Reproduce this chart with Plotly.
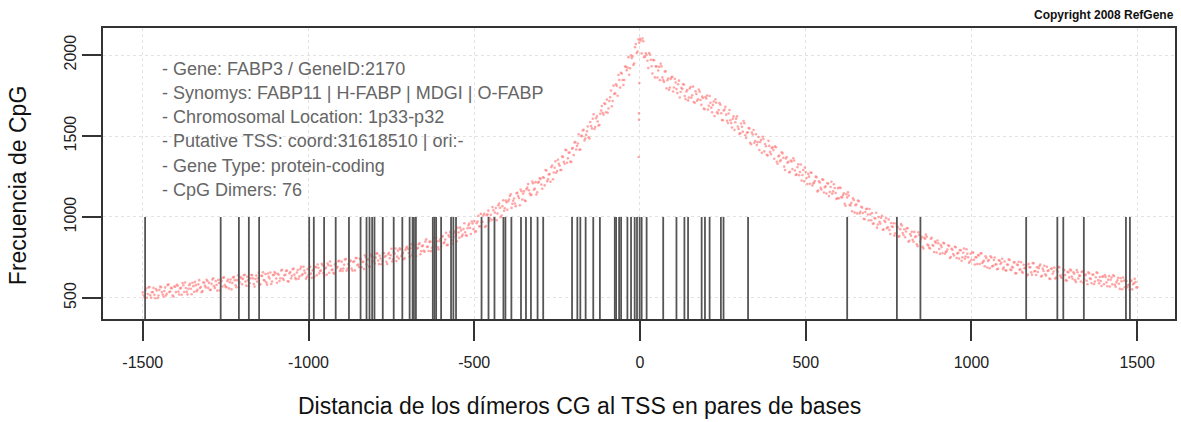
import plotly.graph_objects as go

# ---- data ----
# CpG dimer positions (bp relative to TSS)
dimer_pos = [-1493, -1265, -1210, -1180, -1149, -998, -984, -953, -918, -878, -843,
             -825, -816, -808, -801, -776, -743, -717, -695, -686, -682, -676,
             -625, -620, -615, -600, -570, -563, -555,
             -478, -457, -439, -412, -406, -388, -359, -344, -329, -309, -292,
             -205, -189, -180, -164, -141, -121,
             -76, -72, -63, -57, -38, -27, -16, -9, -1, 5, 20,
             70, 110, 134, 145, 186, 196, 210, 244, 252, 326,
             625, 775, 846, 1165, 1259, 1277, 1339, 1466, 1478]
dimer_height = 1000

# CpG frequency profile, estimates every 5 bp from -1500 to 1500
freq_x = list(range(-1500, 1501, 5))
freq_y = [
    535, 504, 558, 524, 568, 501, 537, 519, 555, 500, 550, 566, 521, 543, 515, 579, 537, 562, 515, 571,
    536, 576, 521, 562, 592, 537, 561, 522, 579, 557, 594, 538, 579, 551, 610, 568, 542, 595, 565, 605,
    593, 550, 614, 573, 605, 545, 592, 615, 571, 627, 567, 604, 559, 614, 593, 629, 578, 610, 565, 629,
    585, 640, 601, 631, 572, 621, 641, 586, 617, 601, 656, 585, 636, 611, 648, 582, 631, 657, 602, 641,
    652, 594, 643, 622, 674, 611, 643, 669, 602, 660, 637, 681, 625, 657, 619, 679, 640, 693, 654, 630,
    643, 693, 624, 674, 693, 640, 686, 666, 711, 653, 681, 644, 702, 725, 673, 655, 706, 686, 726, 667,
    724, 682, 737, 668, 709, 726, 681, 722, 670, 747, 707, 742, 689, 723, 764, 706, 737, 693, 758, 728,
    713, 774, 731, 761, 708, 776, 754, 723, 770, 745, 804, 738, 773, 728, 792, 806, 759, 779, 746, 809,
    803, 754, 831, 782, 824, 759, 809, 837, 789, 823, 786, 862, 816, 846, 789, 845, 816, 872, 813, 851,
    819, 883, 844, 902, 828, 878, 899, 835, 902, 887, 933, 872, 917, 891, 961, 887, 930, 959, 895, 960,
    975, 911, 972, 943, 1019, 970, 1020, 944, 1016, 974, 1013, 1061, 988, 1055, 1021, 1083, 999, 1067, 1038, 1102,
    1045, 1108, 1140, 1081, 1114, 1067, 1149, 1117, 1170, 1108, 1158, 1099, 1181, 1165, 1135, 1219, 1168, 1215, 1153, 1217,
    1235, 1174, 1242, 1290, 1220, 1263, 1218, 1318, 1275, 1344, 1284, 1328, 1290, 1373, 1341, 1415, 1335, 1397, 1342, 1422,
    1382, 1463, 1438, 1511, 1417, 1499, 1539, 1484, 1529, 1492, 1586, 1547, 1634, 1556, 1622, 1565, 1637, 1685, 1632, 1698,
    1725, 1670, 1739, 1684, 1811, 1763, 1810, 1877, 1799, 1886, 1815, 1929, 1906, 1987, 1918, 1981, 1939, 2048, 2012, 2096,
    2100, 2010, 2085, 1990, 2000, 1920, 2003, 1931, 1969, 1862, 1930, 1905, 1845, 1930, 1845, 1898, 1795, 1855, 1800, 1862,
    1775, 1853, 1790, 1820, 1738, 1797, 1820, 1747, 1775, 1720, 1793, 1737, 1805, 1705, 1760, 1727, 1774, 1692, 1735, 1665,
    1732, 1663, 1747, 1675, 1692, 1623, 1706, 1639, 1703, 1641, 1597, 1664, 1632, 1580, 1661, 1580, 1606, 1537, 1606, 1559,
    1513, 1577, 1527, 1579, 1488, 1523, 1547, 1449, 1509, 1458, 1511, 1462, 1414, 1476, 1495, 1405, 1437, 1379, 1439, 1388,
    1430, 1360, 1431, 1329, 1379, 1352, 1393, 1311, 1361, 1335, 1275, 1348, 1296, 1349, 1259, 1308, 1258, 1324, 1259, 1220,
    1278, 1203, 1249, 1275, 1194, 1212, 1249, 1158, 1220, 1180, 1232, 1151, 1190, 1208, 1129, 1185, 1144, 1202, 1148, 1116,
    1115, 1179, 1121, 1147, 1069, 1121, 1133, 1071, 1035, 1105, 1072, 1022, 1097, 1032, 1058, 989, 1031, 1051, 980, 1016,
    1025, 960, 991, 934, 1000, 959, 1008, 923, 969, 931, 985, 895, 941, 961, 899, 942, 878, 925, 947, 889,
    875, 929, 847, 895, 909, 847, 876, 832, 905, 849, 877, 806, 865, 878, 824, 805, 871, 822, 848, 781,
    838, 772, 814, 841, 773, 787, 825, 747, 804, 771, 816, 747, 779, 796, 730, 779, 742, 801, 751, 725,
    735, 780, 707, 751, 765, 710, 775, 723, 695, 746, 728, 683, 750, 698, 750, 708, 680, 730, 717, 678,
    725, 669, 705, 734, 672, 688, 721, 652, 703, 675, 720, 656, 684, 701, 644, 690, 658, 715, 665, 642,
    660, 697, 632, 681, 699, 638, 666, 620, 680, 649, 687, 624, 662, 689, 629, 643, 671, 610, 661, 627,
    670, 619, 649, 598, 659, 638, 601, 665, 616, 645, 585, 652, 617, 643, 586, 628, 654, 590, 605, 632,
    585, 630, 572, 635, 612, 584, 635, 569, 609, 588, 622, 554, 606, 614, 566, 581, 604, 553, 591, 598, 566,
]

# second set of estimates, at the half-way positions (-1497.5, -1492.5, ... 1497.5)
freq_x2 = [v + 2.5 for v in range(-1500, 1500, 5)]
freq_y2 = [
    517, 545, 501, 565, 516, 535, 562, 498, 546, 515, 571, 537, 509, 565, 526, 584, 539, 560, 509, 569,
    581, 539, 559, 520, 578, 595, 539, 557, 588, 523, 573, 599, 542, 584, 561, 535, 595, 576, 612, 562,
    549, 587, 622, 562, 581, 611, 548, 604, 624, 579, 567, 614, 597, 553, 627, 610, 566, 640, 595, 621,
    619, 643, 576, 609, 592, 641, 621, 570, 638, 622, 582, 637, 659, 607, 596, 651, 620, 586, 642, 660,
    620, 649, 604, 669, 620, 640, 667, 603, 652, 621, 677, 644, 616, 673, 633, 692, 648, 669, 618, 678,
    691, 650, 670, 631, 689, 707, 652, 669, 701, 636, 687, 713, 656, 699, 676, 650, 711, 692, 729, 678,
    666, 705, 740, 681, 701, 731, 669, 726, 746, 702, 691, 738, 722, 679, 753, 737, 694, 768, 724, 751,
    749, 775, 709, 744, 727, 778, 759, 710, 779, 764, 725, 782, 805, 755, 744, 801, 771, 739, 796, 816,
    777, 807, 764, 830, 783, 804, 832, 770, 820, 791, 848, 816, 790, 848, 810, 870, 827, 850, 800, 862,
    876, 838, 861, 826, 887, 908, 856, 877, 912, 850, 904, 934, 880, 926, 906, 884, 948, 932, 972, 925,
    910, 962, 1007, 941, 969, 1009, 938, 1011, 1039, 991, 981, 1042, 1027, 980, 1072, 1057, 1009, 1103, 1054, 1091,
    1097, 1130, 1056, 1100, 1083, 1147, 1129, 1072, 1159, 1143, 1101, 1172, 1203, 1145, 1137, 1208, 1175, 1139, 1212, 1239,
    1200, 1245, 1195, 1287, 1232, 1265, 1308, 1233, 1304, 1273, 1353, 1317, 1290, 1371, 1328, 1412, 1362, 1398, 1339, 1426,
    1460, 1417, 1454, 1415, 1501, 1534, 1473, 1507, 1559, 1485, 1562, 1607, 1543, 1610, 1590, 1568, 1658, 1644, 1702, 1647,
    1644, 1716, 1781, 1716, 1760, 1819, 1749, 1846, 1890, 1846, 1846, 1928, 1922, 1878, 1998, 1992, 1948, 2068, 2022, 2076,
    2090, 2102, 1987, 2011, 1965, 2012, 1971, 1886, 1968, 1930, 1861, 1927, 1946, 1862, 1834, 1899, 1844, 1785, 1852, 1866,
    1800, 1830, 1765, 1842, 1772, 1790, 1818, 1728, 1784, 1738, 1803, 1752, 1710, 1776, 1718, 1787, 1722, 1743, 1669, 1741,
    1750, 1687, 1705, 1646, 1713, 1727, 1646, 1660, 1693, 1599, 1657, 1680, 1594, 1639, 1597, 1553, 1621, 1585, 1621, 1544,
    1517, 1557, 1592, 1505, 1520, 1549, 1458, 1521, 1537, 1469, 1444, 1494, 1463, 1396, 1482, 1451, 1384, 1470, 1402, 1426,
    1413, 1436, 1341, 1375, 1344, 1399, 1365, 1290, 1370, 1340, 1279, 1343, 1363, 1287, 1263, 1326, 1278, 1225, 1290, 1305,
    1240, 1266, 1205, 1273, 1207, 1222, 1246, 1163, 1213, 1170, 1230, 1184, 1145, 1207, 1154, 1218, 1159, 1179, 1111, 1178,
    1182, 1123, 1136, 1081, 1140, 1152, 1075, 1087, 1115, 1027, 1078, 1101, 1022, 1063, 1025, 986, 1049, 1015, 1049, 980,
    958, 994, 1026, 954, 970, 996, 921, 977, 993, 937, 919, 963, 939, 885, 960, 935, 882, 956, 901, 924,
    910, 932, 853, 884, 859, 908, 881, 820, 889, 866, 816, 872, 891, 829, 810, 866, 827, 784, 841, 855,
    802, 826, 777, 837, 784, 799, 821, 753, 797, 762, 813, 775, 743, 795, 751, 805, 756, 773, 717, 773,
    781, 736, 751, 709, 762, 776, 716, 730, 757, 688, 734, 757, 695, 734, 706, 677, 733, 710, 742, 688,
    671, 707, 738, 676, 692, 719, 653, 707, 723, 676, 661, 705, 685, 639, 709, 690, 643, 714, 666, 690,
    684, 706, 636, 667, 646, 693, 670, 617, 682, 663, 620, 673, 692, 638, 623, 676, 642, 606, 659, 675,
    632, 658, 610, 672, 620, 637, 660, 594, 639, 606, 658, 622, 591, 645, 602, 658, 610, 629, 574, 632,
    641, 596, 613, 571, 626, 640, 581, 596, 624, 556, 603, 626, 566, 605, 579, 550, 607, 585, 618, 565,
]

# a few low outliers right at the TSS
outlier_x = [-3, -3, -4, -2]
outlier_y = [1640, 1600, 1370, 1827]

x_ticks = [-1500, -1000, -500, 0, 500, 1000, 1500]
y_ticks = [500, 1000, 1500, 2000]

info_lines = [
    "- Gene: FABP3 / GeneID:2170",
    "- Synomys: FABP11 | H-FABP | MDGI | O-FABP",
    "- Chromosomal Location: 1p33-p32",
    "- Putative TSS: coord:31618510 | ori:-",
    "- Gene Type: protein-coding",
    "- CpG Dimers: 76",
]
copyright_text = "Copyright 2008 RefGene"
x_title = "Distancia de los dímeros CG al TSS en pares de bases"
y_title = "Frecuencia de CpG"

# ---- figure ----
W, H = 1181, 422
ML, MR, MT, MB = 103, 4, 28, 103
PW, PH = W - ML - MR, H - MT - MB

def px_x(p):
    return (p - ML) / PW

def px_y(p):
    return (H - MB - p) / PH

lx, ly = [], []
for p in dimer_pos:
    lx += [p, p, None]
    ly += [0, dimer_height, None]

dot_marker = dict(size=2.6, color="rgba(255,130,130,0.7)", line=dict(width=0))

fig = go.Figure()
fig.add_trace(go.Scatter(x=freq_x, y=freq_y, mode="markers", marker=dot_marker,
                         hoverinfo="skip", showlegend=False))
fig.add_trace(go.Scatter(x=freq_x2, y=freq_y2, mode="markers", marker=dot_marker,
                         hoverinfo="skip", showlegend=False))
fig.add_trace(go.Scatter(x=outlier_x, y=outlier_y, mode="markers", marker=dot_marker,
                         hoverinfo="skip", showlegend=False))
fig.add_trace(go.Scatter(x=lx, y=ly, mode="lines",
                         line=dict(color="#555555", width=1.8),
                         hoverinfo="skip", showlegend=False))

font_fam = "Liberation Sans, Arial, sans-serif"

fig.update_xaxes(
    range=[-1620, 1614], tickvals=x_ticks, ticktext=[str(v) for v in x_ticks],
    showgrid=True, gridcolor="#e2e2e2", griddash="dot", gridwidth=1,
    zeroline=False, showline=True, mirror=True, linecolor="#333", linewidth=2,
    ticks="outside", ticklen=20, tickwidth=2, tickcolor="#333",
    ticklabelstandoff=8,
    tickfont=dict(family=font_fam, size=16, color="#222"))
fig.update_yaxes(
    range=[370, 2167], tickvals=y_ticks, ticktext=[str(v) for v in y_ticks],
    showgrid=True, gridcolor="#e2e2e2", griddash="dot", gridwidth=1,
    zeroline=False, showline=True, mirror=True, linecolor="#333", linewidth=2,
    ticks="outside", ticklen=19, tickwidth=2, tickcolor="#333",
    tickangle=-90,
    tickfont=dict(family=font_fam, size=16, color="#222"))

ann = []
info_y = [69, 93, 117, 141, 166, 190]
for t, yy in zip(info_lines, info_y):
    ann.append(dict(text=t, xref="paper", yref="paper", x=px_x(160), y=px_y(yy),
                    xanchor="left", yanchor="middle", showarrow=False,
                    font=dict(family=font_fam, size=18, color="#666")))
ann.append(dict(text=copyright_text, xref="paper", yref="paper", x=px_x(1178), y=px_y(15),
                xanchor="right", yanchor="middle", showarrow=False,
                font=dict(family=font_fam, size=12, color="#111", weight="bold")))
ann.append(dict(text=x_title, xref="paper", yref="paper", x=px_x(580), y=px_y(406),
                xanchor="center", yanchor="middle", showarrow=False,
                font=dict(family=font_fam, size=23, color="#111")))
ann.append(dict(text=y_title, xref="paper", yref="paper", x=px_x(18), y=px_y(186),
                xanchor="center", yanchor="middle", showarrow=False, textangle=-90,
                font=dict(family=font_fam, size=23, color="#111")))

fig.update_layout(
    width=W, height=H, margin=dict(l=ML, r=MR, t=MT, b=MB, pad=0),
    paper_bgcolor="white", plot_bgcolor="white",
    annotations=ann, showlegend=False)

fig.write_html("out.html")
